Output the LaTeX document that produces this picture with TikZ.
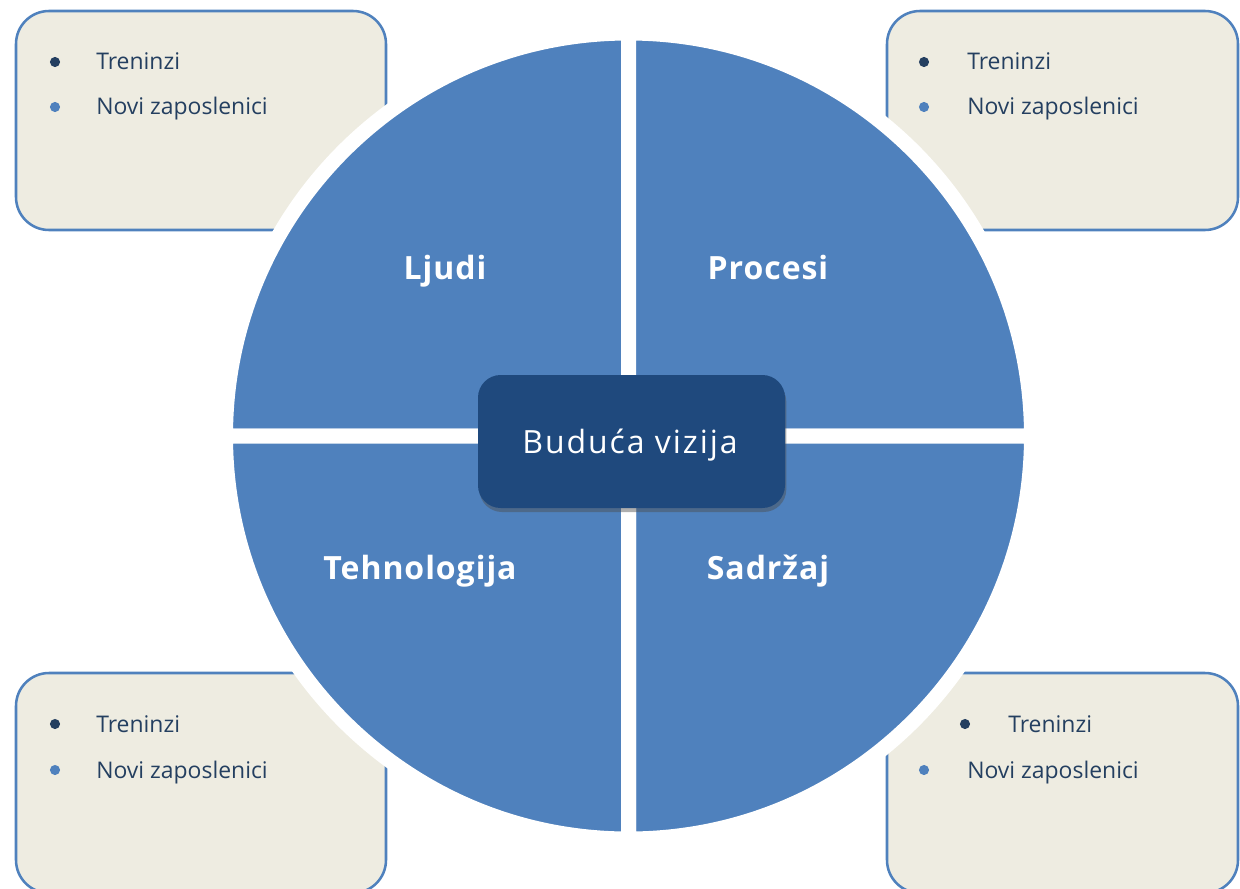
\documentclass[tikz,border=0pt]{standalone}
\usepackage{fontspec}
\setmainfont{Open Sans}
\usetikzlibrary{shadows}
\definecolor{qblue}{HTML}{4F81BD}
\definecolor{boxfill}{HTML}{EEECE1}
\definecolor{navy}{HTML}{1F497D}
\definecolor{txt}{HTML}{243F60}
\begin{document}
\begin{tikzpicture}[x=0.75pt,y=0.75pt,
  infobox/.style={draw=qblue, line width=1.9pt, fill=boxfill, rounded corners=24.75pt},
  quad/.style={fill=qblue, draw=white, line width=11.25pt, line join=round},
  item/.style={anchor=base west, text=txt, font=\fontsize{17.2}{20}\selectfont, inner sep=0pt},
  bdark/.style={circle, fill=txt, inner sep=0pt, minimum size=7.6pt},
  blight/.style={circle, fill=qblue, inner sep=0pt, minimum size=7.6pt},
  qlabel/.style={anchor=base, text=white, font=\fontsize{24}{28}\selectfont\bfseries\addfontfeatures{LetterSpace=3}, inner sep=0pt},
  centerbox/.style={fill=navy, rounded corners=17pt, minimum width=230.25pt, minimum height=99.75pt, inner sep=0pt,
    drop shadow={shadow xshift=1pt, shadow yshift=-3pt, opacity=0.45, fill=black!70}},
  centertext/.style={anchor=base, text=white, font=\fontsize{24}{28}\selectfont\addfontfeatures{LetterSpace=6}, inner sep=0pt}
]
\useasboundingbox (0,0) rectangle (1240,-889);
% information boxes
\draw[infobox] (16,-11) rectangle (386,-230);
\draw[infobox] (887,-11) rectangle (1238,-230);
\draw[infobox] (16,-673) rectangle (386,-893);
\draw[infobox] (887,-673) rectangle (1238,-893);
% quadrants
\coordinate (C) at (628.5,-436);
\draw[quad] (C) -- ++(-403,0) arc[start angle=180, end angle=90, radius=403] -- cycle;
\draw[quad] (C) -- ++(0,403) arc[start angle=90, end angle=0, radius=403] -- cycle;
\draw[quad] (C) -- ++(403,0) arc[start angle=0, end angle=-90, radius=403] -- cycle;
\draw[quad] (C) -- ++(0,-403) arc[start angle=270, end angle=180, radius=403] -- cycle;
% quadrant labels
\node[qlabel] (ljudi) at (445,-279) {Ljudi};
\node[qlabel] (procesi) at (768,-279) {Procesi};
\node[qlabel] (tehno) at (420,-579) {Tehnologija};
\node[qlabel] (sadrzaj) at (768,-579) {Sadržaj};
% center
\node[centerbox] (vision) at (631.5,-441.5) {};
\node[centertext] (visiontext) at (630,-453) {Buduća vizija};
% bullets top-left
\node[bdark] (tl1) at (55,-62) {};
\node[blight] (tl2) at (55,-107) {};
\node[item] (tlt1) at (96,-69) {Treninzi};
\node[item] (tlt2) at (96,-114) {Novi zaposlenici};
% top-right
\node[bdark] (tr1) at (924,-62) {};
\node[blight] (tr2) at (924,-107) {};
\node[item] (trt1) at (967,-69) {Treninzi};
\node[item] (trt2) at (967,-114) {Novi zaposlenici};
% bottom-left
\node[bdark] (bl1) at (55,-724) {};
\node[blight] (bl2) at (55,-770) {};
\node[item] (blt1) at (96,-732) {Treninzi};
\node[item] (blt2) at (96,-778) {Novi zaposlenici};
% bottom-right
\node[bdark] (br1) at (965,-724) {};
\node[blight] (br2) at (924,-770) {};
\node[item] (brt1) at (1008,-732) {Treninzi};
\node[item] (brt2) at (967,-778) {Novi zaposlenici};
\end{tikzpicture}
\end{document}
